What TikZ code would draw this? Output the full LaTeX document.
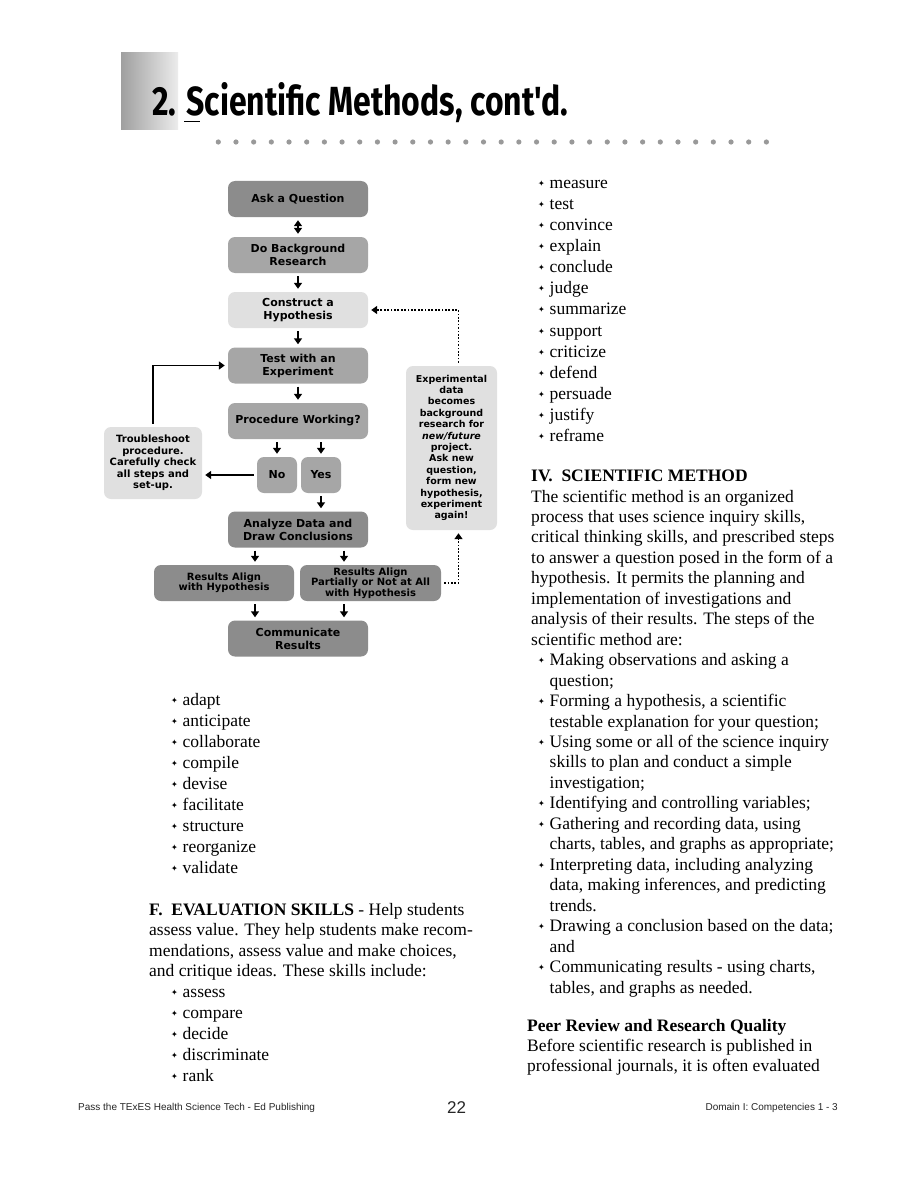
\documentclass[tikz,border=0pt]{standalone}
\usepackage{fontspec}
\usepackage{graphicx}
\setmainfont{Liberation Serif}
\newfontfamily\flowfont{DejaVu Sans}
\newfontfamily\symfont{DejaVu Sans}
\newfontfamily\titlefont{Fira Sans}
\newfontfamily\footfont{Liberation Sans}
\usetikzlibrary{arrows.meta,positioning}

\definecolor{boxdark}{gray}{0.55}
\definecolor{boxmid}{gray}{0.65}
\definecolor{boxlight}{gray}{0.88}
\definecolor{dotgray}{gray}{0.6}

\newcommand\bul{\makebox[11.5pt][l]{\raisebox{2pt}{\symfont\fontsize{8}{8}\selectfont ✦}}}

\tikzset{
  stepbox/.style={fill=#1, rounded corners=7pt, minimum width=140pt, minimum height=36pt,
    inner sep=1pt, align=center, font=\flowfont\bfseries\fontsize{11}{13}\selectfont},
  notebox/.style={fill=boxlight, rounded corners=7pt, inner sep=1pt, align=center,
    font=\flowfont\bfseries\fontsize{9.5}{11.4}\selectfont},
  flowline/.style={line width=1.7pt, shorten >=3pt, shorten <=3pt},
  dotline/.style={line width=1.7pt, dash pattern=on 1.7pt off 1.7pt, shorten >=3pt, shorten <=3pt},
  txt/.style={inner sep=0pt, anchor=base west, font=\fontsize{17.5}{20}\selectfont},
  foot/.style={inner sep=0pt, text=black!85, font=\footfont\fontsize{10}{10}\selectfont},
}

\begin{document}
\begin{tikzpicture}[x=1pt, y=-1pt, >={Triangle[width=8pt,length=6pt]}]
  \useasboundingbox (0,0) rectangle (910,1177);
  \fill[white] (0,0) rectangle (910,1177);

  % title bar
  \shade[left color=gray!75, right color=gray!15] (121,53) rectangle (178,130);
  \node[anchor=base west, inner sep=0pt] (title) at (152,116)
    {\resizebox{416pt}{33pt}{\titlefont\bfseries 2. Scientific Methods, cont'd.}};
  \draw[line width=1pt] (184,121.5) -- (200,121.5);
  \foreach \i in {0,...,31}
    \fill[dotgray] ({218.3+17.68*\i},142) circle (2.6pt);

  % flowchart
  \node[stepbox=boxdark] (ask) at (298,199) {Ask a Question};
  \node[stepbox=boxmid] (bg) at (298,255) {Do Background\\Research};
  \node[stepbox=boxlight] (hyp) at (298,310) {Construct a\\Hypothesis};
  \node[stepbox=boxmid] (test) at (298,365.5) {Test with an\\Experiment};
  \node[stepbox=boxmid] (proc) at (298,421) {Procedure Working?};
  \node[stepbox=boxmid, minimum width=40pt] (no) at (277,475) {No};
  \node[stepbox=boxmid, minimum width=40pt] (yes) at (321,475) {Yes};
  \node[stepbox=boxdark] (ana) at (298,529.5) {Analyze Data and\\Draw Conclusions};
  \node[stepbox=boxdark, font=\flowfont\bfseries\fontsize{10}{10.5}\selectfont] (ralign) at (224,583)
    {Results Align\\with Hypothesis};
  \node[stepbox=boxdark, minimum width=141pt, font=\flowfont\bfseries\fontsize{10}{10.5}\selectfont] (rpart) at (370.5,583)
    {Results Align\\Partially or Not at All\\with Hypothesis};
  \node[stepbox=boxdark] (comm) at (298,638.5) {Communicate\\Results};
  \node[notebox, minimum width=98pt, minimum height=72pt, font=\flowfont\bfseries\fontsize{10}{11.6}\selectfont] (trouble) at (153,463)
    {Troubleshoot\\procedure.\\Carefully check\\all steps and\\set-up.};
  \node[notebox, minimum width=91pt, minimum height=164pt] (expdata) at (451.5,448)
    {Experimental\\data\\becomes\\background\\research for\\\textit{new/future}\\project.\\Ask new\\question,\\form new\\hypothesis,\\experiment\\again!};

  \draw[flowline, <->] (ask) -- (bg);
  \draw[flowline, ->] (bg) -- (hyp);
  \draw[flowline, ->] (hyp) -- (test);
  \draw[flowline, ->] (test) -- (proc);
  \draw[flowline, ->] (proc.south -| no) -- (no);
  \draw[flowline, ->] (proc.south -| yes) -- (yes);
  \draw[flowline, ->] (yes) -- (ana.north -| yes);
  \draw[flowline, ->] (no.west) -- (no.west -| trouble.east);
  \draw[flowline, ->] (trouble.north) |- (test.west);
  \draw[flowline, ->] ([xshift=-43pt]ana.south) -- ([xshift=-43pt]ana.south |- ralign.north);
  \draw[flowline, ->] ([xshift=46pt]ana.south) -- ([xshift=46pt]ana.south |- rpart.north);
  \draw[flowline, ->] ([xshift=-43pt]comm.north |- ralign.south) -- ([xshift=-43pt]comm.north);
  \draw[flowline, ->] ([xshift=46pt]comm.north |- rpart.south) -- ([xshift=46pt]comm.north);
  \draw[dotline, ->] ([xshift=7pt]expdata.north) |- (hyp.east);
  \draw[dotline, ->] (rpart.east) -| ([xshift=7pt]expdata.south);

  % left column
  \foreach \w [count=\i from 0] in {adapt,anticipate,collaborate,compile,devise,facilitate,structure,reorganize,validate}
    \node[txt] (la\i) at (171,{705+21*\i}) {\bul\w};
  \node[txt] (fh) at (149,915) {\textbf{F.\ \ EVALUATION SKILLS} - Help students};
  \node[txt] (f2) at (149,935.5) {assess value. They help students make recom-};
  \node[txt] (f3) at (149,956) {mendations, assess value and make choices,};
  \node[txt] (f4) at (149,976.5) {and critique ideas. These skills include:};
  \foreach \w [count=\i from 0] in {assess,compare,decide,discriminate,rank}
    \node[txt] (lb\i) at (171,{997+21*\i}) {\bul\w};

  % right column
  \foreach \w [count=\i from 0] in {measure,test,convince,explain,conclude,judge,summarize,support,criticize,defend,persuade,justify,reframe}
    \node[txt] (ra\i) at (538,{188.3+21.1*\i}) {\bul\w};
  \node[txt] (ivh) at (531,481.5) {\textbf{IV.\ \ SCIENTIFIC METHOD}};
  \foreach \px/\words [count=\i from 0] in {
      531/{The scientific method is an organized},
      531/{process that uses science inquiry skills,},
      531/{critical thinking skills, and prescribed steps},
      531/{to answer a question posed in the form of a},
      531/{hypothesis. It permits the planning and},
      531/{implementation of investigations and},
      531/{analysis of their results. The steps of the},
      531/{scientific method are:},
      538/{\bul Making observations and asking a},
      549.5/{question;},
      538/{\bul Forming a hypothesis, a scientific},
      549.5/{testable explanation for your question;},
      538/{\bul Using some or all of the science inquiry},
      549.5/{skills to plan and conduct a simple},
      549.5/{investigation;},
      538/{\bul Identifying and controlling variables;},
      538/{\bul Gathering and recording data, using},
      549.5/{charts, tables, and graphs as appropriate;},
      538/{\bul Interpreting data, including analyzing},
      549.5/{data, making inferences, and predicting},
      549.5/{trends.},
      538/{\bul Drawing a conclusion based on the data;},
      549.5/{and},
      538/{\bul Communicating results - using charts,},
      549.5/{tables, and graphs as needed.}}
    \node[txt] (rb\i) at (\px,{502+20.46*\i}) {\words};
  \node[txt] (peer) at (527,1031.5) {\textbf{Peer Review and Research Quality}};
  \node[txt] (pr1) at (527,1051.5) {Before scientific research is published in};
  \node[txt] (pr2) at (527,1071.5) {professional journals, it is often evaluated};

  % footer
  \node[foot, anchor=base west] (footl) at (78,1110) {Pass the TExES Health Science Tech - Ed Publishing};
  \node[foot, anchor=base west, font=\footfont\fontsize{17}{17}\selectfont] (pgnum) at (447,1113) {22};
  \node[foot, anchor=base east] (footr) at (838,1110) {Domain I: Competencies 1 - 3};
\end{tikzpicture}
\end{document}
